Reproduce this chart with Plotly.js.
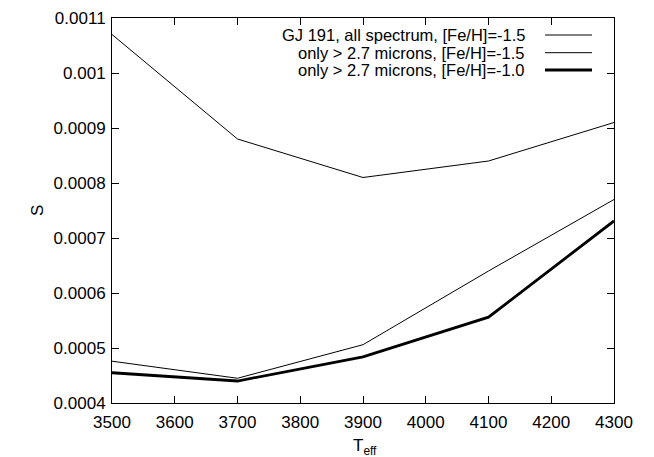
<!DOCTYPE html>
<html>
<head>
<meta charset="utf-8">
<script src="https://cdn.plot.ly/plotly-3.0.1.min.js"></script>
<style>html,body{margin:0;padding:0;background:#fff;}#chart{width:654px;height:457px;}</style>
</head>
<body>
<div id="chart"></div>
<script>
const teff = [3500, 3700, 3900, 4100, 4300];
const sAllSpec15 = [0.00107, 0.00088, 0.00081, 0.00084, 0.00091];
const sOnly27_15 = [0.000476, 0.000445, 0.000506, 0.00064, 0.00077];
const sOnly27_10 = [0.000455, 0.000440, 0.000484, 0.000556, 0.000731];
const seriesNames = [
  "GJ 191, all spectrum, [Fe/H]=-1.5",
  "only > 2.7 microns, [Fe/H]=-1.5",
  "only > 2.7 microns, [Fe/H]=-1.0"
];
const xTickVals = [3500, 3600, 3700, 3800, 3900, 4000, 4100, 4200, 4300];
const yTickVals = [0.0004, 0.0005, 0.0006, 0.0007, 0.0008, 0.0009, 0.001, 0.0011];
const yTickText = ["0.0004", "0.0005", "0.0006", "0.0007", "0.0008", "0.0009", "0.001", "0.0011"];

const widths = [1, 1, 2.8];
const ys = [sAllSpec15, sOnly27_15, sOnly27_10];
const FONT = "Liberation Sans, Arial, Helvetica, sans-serif";

const W = 654, H = 457;
const M = {l: 112, r: 40, t: 18, b: 54};
const plotW = W - M.l - M.r, plotH = H - M.t - M.b;

const traces = ys.map((y, i) => ({
  x: teff, y: y, type: "scatter", mode: "lines", name: seriesNames[i],
  line: {color: "#000", width: widths[i]}, showlegend: false
}));

// gnuplot-style legend: right-aligned text with line sample on the right
const annotations = [];
const shapes = [];
const legendRowY = [35, 52.7, 70]; // pixel rows from top of figure
legendRowY.forEach((py, i) => {
  const yp = 1 - (py - M.t) / plotH;
  annotations.push({
    xref: "paper", yref: "paper", x: (527 - M.l) / plotW, y: yp,
    xanchor: "right", yanchor: "middle", showarrow: false,
    text: seriesNames[i], font: {family: FONT, size: 16.5, color: "#000"}
  });
  shapes.push({
    type: "line", xref: "paper", yref: "paper",
    x0: (545 - M.l) / plotW, x1: (592 - M.l) / plotW, y0: yp, y1: yp,
    line: {color: "#000", width: widths[i]}
  });
});
annotations.push({
  xref: "paper", yref: "paper", x: 0.5, y: 0, yanchor: "middle", yshift: -44, xshift: 2,
  showarrow: false, text: "T<sub>eff</sub>", font: {family: FONT, size: 17, color: "#000"}
});
annotations.push({
  xref: "paper", yref: "paper", x: 0, y: 0.5, xshift: -86, textangle: -90,
  showarrow: false, text: "S", font: {family: FONT, size: 17, color: "#000"}
});

const axisCommon = {
  showline: true, linecolor: "#000", linewidth: 1, mirror: "ticks",
  ticks: "inside", ticklen: 7, tickwidth: 1, tickcolor: "#000",
  showgrid: false, zeroline: false, automargin: false,
  ticklabeloverflow: "allow",
  tickfont: {family: FONT, size: 17, color: "#000"}
};

const layout = {
  width: W, height: H,
  margin: M,
  paper_bgcolor: "#fff", plot_bgcolor: "#fff",
  showlegend: false,
  xaxis: Object.assign({}, axisCommon, {range: [3500, 4300], tickvals: xTickVals, ticklabelstandoff: 4}),
  yaxis: Object.assign({}, axisCommon, {range: [0.0004, 0.0011], tickvals: yTickVals, ticktext: yTickText, ticklabelstandoff: 2}),
  annotations: annotations,
  shapes: shapes
};

Plotly.newPlot("chart", traces, layout, {staticPlot: true, displayModeBar: false});
</script>
</body>
</html>
